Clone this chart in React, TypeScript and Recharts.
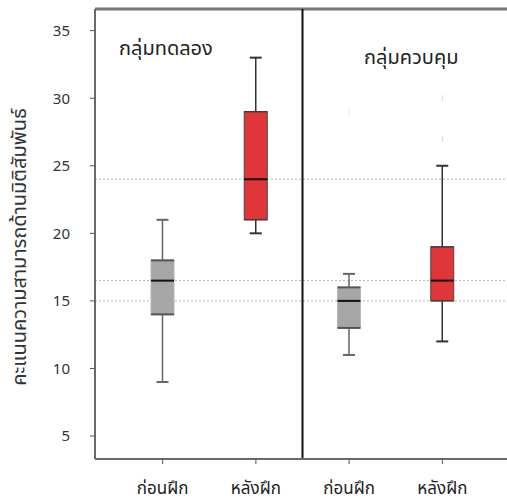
import { ComposedChart, Bar, XAxis, YAxis, ReferenceLine, Scatter, Customized, CartesianGrid } from "recharts";

const categories = ["exp-pre", "exp-post", "ctl-pre", "ctl-post"];
const tickLabels = ["ก่อนฝึก", "หลังฝึก", "ก่อนฝึก", "หลังฝึก"];
const mins = [9, 20, 11, 12];
const q1s = [14, 21, 13, 15];
const medians = [16.5, 24, 15, 16.5];
const q3s = [18, 29, 16, 19];
const maxs = [21, 33, 17, 25];
const kinds = ["pre", "post", "pre", "post"];

const outlierPositions = [3, 4, 4];
const outlierValues = [29, 30, 27];
const outlierKinds = ["pre", "post", "post"];

const yTicks = [5, 10, 15, 20, 25, 30, 35];
const refValues = [24, 16.5, 15];
const Y_MIN = 3.3;
const Y_MAX = 36.6;

const groupLabels = ["กลุ่มทดลอง", "กลุ่มควบคุม"];
const yLabel = "คะแนนความสามารถด้านมิติสัมพันธ์";

const FONT = "'Noto Sans Thai', Tahoma, 'Noto Sans', 'DejaVu Sans', sans-serif";

const COLORS = {
  pre: { fill: "#a6a6a6", edge: "#555555", side: "#b8b8b8", whisker: "#666666" },
  post: { fill: "#e0363a", edge: "#333333", side: "#444444", whisker: "#333333" },
};

const data = categories.map((c, i) => ({
  cat: c,
  min: mins[i],
  q1: q1s[i],
  median: medians[i],
  q3: q3s[i],
  max: maxs[i],
  kind: kinds[i],
}));

const outliers = outlierPositions.map((p, i) => ({ pos: p, value: outlierValues[i], kind: outlierKinds[i] }));

function BoxShape(props: any) {
  const { x, y, width, height, payload } = props;
  const { min, max, q1, q3, median, kind } = payload;
  const c = COLORS[kind as "pre" | "post"];
  const py = (v: number) => y + (height * (max - v)) / (max - min);
  const cx = x + width / 2;
  const cap = 6;
  return (
    <g>
      <line x1={cx} x2={cx} y1={py(max)} y2={py(min)} stroke={c.whisker} strokeWidth={1.5} />
      <line x1={cx - cap} x2={cx + cap} y1={py(max)} y2={py(max)} stroke={c.whisker} strokeWidth={2} />
      <line x1={cx - cap} x2={cx + cap} y1={py(min)} y2={py(min)} stroke={c.whisker} strokeWidth={2} />
      <rect x={x} y={py(q3)} width={width} height={py(q1) - py(q3)} fill={c.fill} stroke={c.side} strokeWidth={1} />
      <line x1={x} x2={x + width} y1={py(q3)} y2={py(q3)} stroke={c.edge} strokeWidth={kind === "pre" ? 2 : 1} />
      <line x1={x} x2={x + width} y1={py(q1)} y2={py(q1)} stroke={c.edge} strokeWidth={kind === "pre" ? 2 : 1} />
      <line x1={x} x2={x + width} y1={py(median)} y2={py(median)} stroke="#111111" strokeWidth={2} />
    </g>
  );
}

function OutlierShape(props: any) {
  const { cx, cy, payload } = props;
  const color = payload.kind === "post" ? "#f8d0d4" : "#e6e6e6";
  return <line x1={cx} x2={cx} y1={cy - 3} y2={cy + 3} stroke={color} strokeWidth={1.2} />;
}

function GroupLabels() {
  return (
    <g fontFamily={FONT} fontSize={20} fill="#222">
      <text x={119} y={55}>{groupLabels[0]}</text>
      <text x={364} y={64}>{groupLabels[1]}</text>
    </g>
  );
}

function YLabel(props: any) {
  const vb = props.viewBox || { y: 9, height: 450 };
  const cy = vb.y + vb.height / 2 + 13;
  return (
    <text x={20} y={cy} transform={`rotate(-90 20 ${cy})`} textAnchor="middle" dominantBaseline="middle"
      fontFamily={FONT} fontSize={20} fill="#333">
      {yLabel}
    </text>
  );
}

export default function App() {
  return (
    <div style={{ position: "absolute", left: 0, top: 0, width: 507, height: 504, background: "#fff" }}>
      <ComposedChart width={507} height={504} data={data} margin={{ top: 9, right: 0, left: 35, bottom: 0 }}
        style={{ fontFamily: FONT }}>
        {refValues.map((v) => (
          <CartesianGrid key={v} vertical={false} horizontalValues={[v]} stroke="#b5b5b5" strokeDasharray="2 2" />
        ))}
        <XAxis dataKey="cat" height={45} padding={{ left: 21, right: 18 }}
          tickFormatter={(v: string) => tickLabels[categories.indexOf(v)]}
          tick={{ fontSize: 17, fill: "#222", fontFamily: FONT }}
          tickSize={5} tickMargin={18}
          axisLine={{ stroke: "#6a6a6a", strokeWidth: 2 }} tickLine={{ stroke: "#555" }} />
        <XAxis xAxisId="num" type="number" dataKey="pos" domain={[0.5, 4.5]} hide
          padding={{ left: 21, right: 18 }} allowDataOverflow />
        <YAxis type="number" domain={[Y_MIN, Y_MAX]} ticks={yTicks} width={60} allowDataOverflow
          tick={{ fontSize: 15, fill: "#333", fontFamily: FONT }} tickSize={5} tickMargin={20}
          axisLine={{ stroke: "#6a6a6a", strokeWidth: 2 }} tickLine={{ stroke: "#555" }}
          label={{ content: (p: any) => <YLabel {...p} /> }} />
        <ReferenceLine y={Y_MAX} stroke="#777" strokeWidth={3} />
        <ReferenceLine xAxisId="num" x={2.5} stroke="#111" strokeWidth={2} />
        <Bar dataKey={(d: any) => [d.min, d.max]} barSize={23} shape={(p: any) => <BoxShape {...p} />}
          isAnimationActive={false} />
        <Scatter xAxisId="num" data={outliers} dataKey="value" shape={(p: any) => <OutlierShape {...p} />}
          isAnimationActive={false} />
        <Customized component={GroupLabels} />
      </ComposedChart>
    </div>
  );
}
